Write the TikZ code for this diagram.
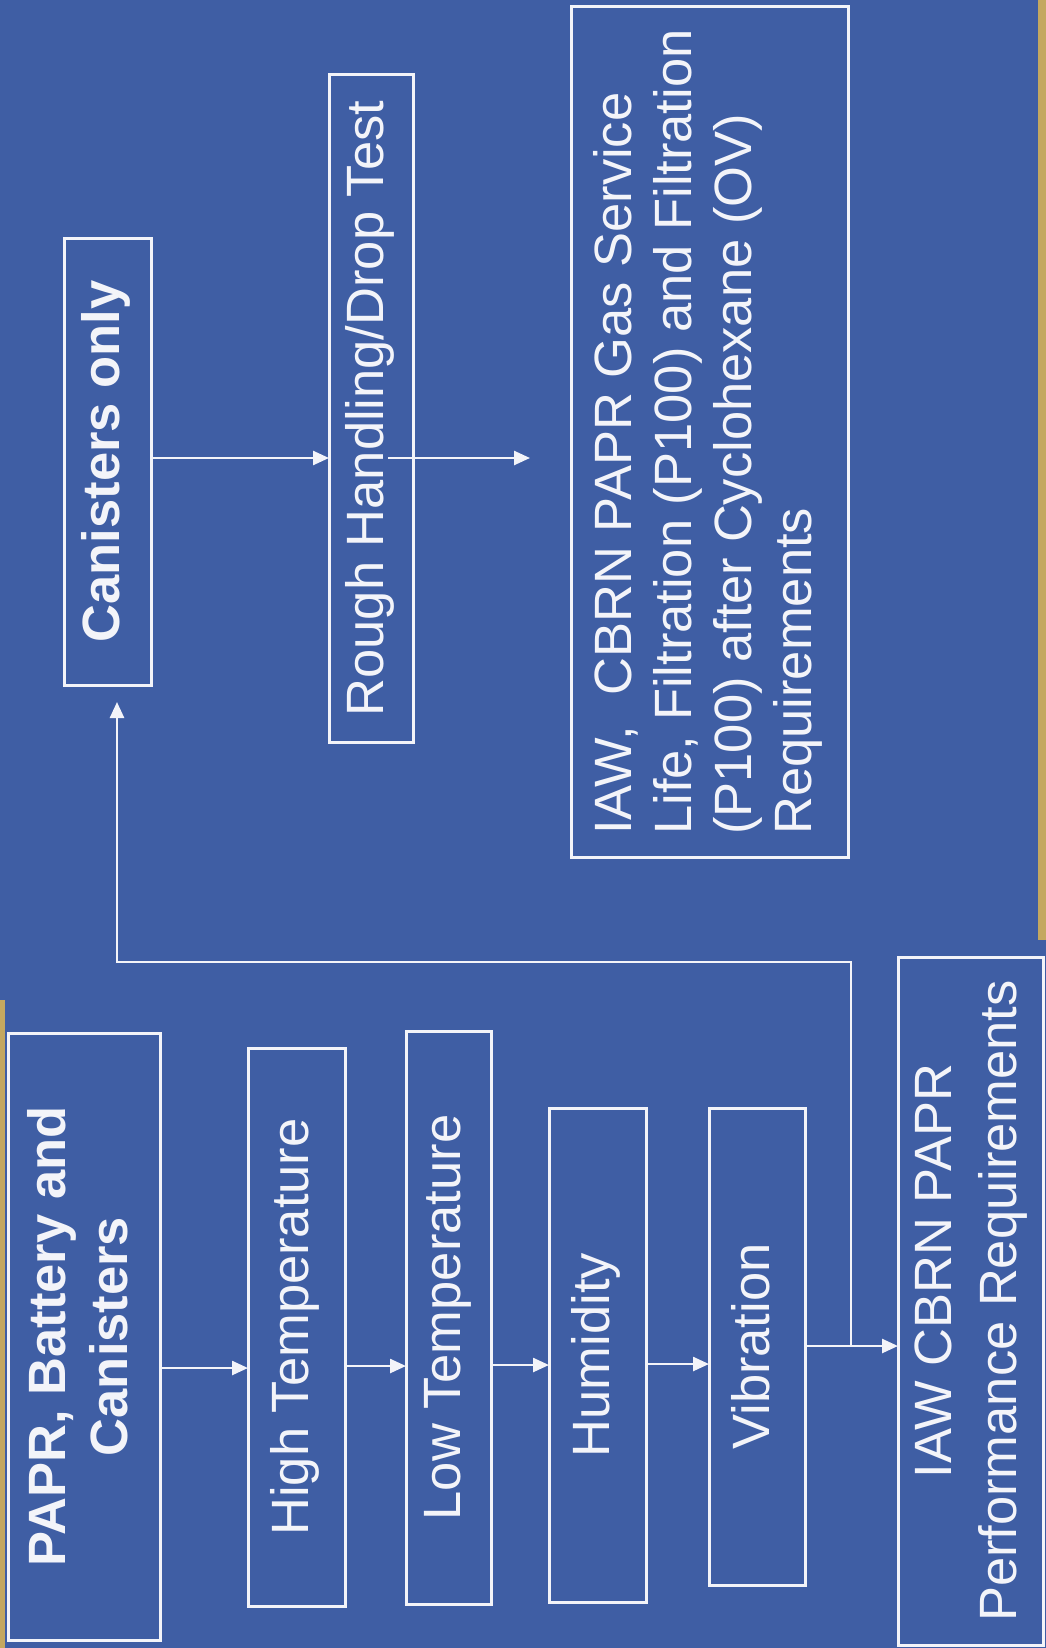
\documentclass[tikz,border=0pt]{standalone}
\usepackage{fontspec}
\setmainfont{Liberation Sans}
\usepackage{graphicx}
\usetikzlibrary{arrows.meta}
\definecolor{bgblue}{RGB}{63,94,164}
\definecolor{ink}{RGB}{243,244,249}
\definecolor{gold}{RGB}{196,168,96}
\newcommand{\vtext}[3][c]{\rotatebox{90}{\fontsize{52.5}{#2}\selectfont\begin{tabular}{@{}#1@{}}#3\end{tabular}}}
\tikzset{
  box/.style={draw=ink, line width=3pt, inner sep=0pt, outer sep=0pt, text=ink, rectangle},
  arr/.style={draw=ink, line width=2.5pt, -{Triangle[length=16pt,width=14pt]}},
}
\begin{document}
\begin{tikzpicture}[x=1pt,y=-1pt]
\fill[bgblue] (0,0) rectangle (1046,1648);
\useasboundingbox (0,0) rectangle (1046,1648);
\fill[gold] (1038,0) rectangle (1046,940);
\fill[gold] (0,1000) rectangle (5,1648);

% left column
\node[box, minimum width=152pt, minimum height=607pt, font=\bfseries] (papr) at (84,1336.5) {\vtext{62}{PAPR, Battery and\\Canisters}};
\node[box, minimum width=97pt, minimum height=558pt] (high) at (296.5,1327) {\vtext{62}{High Temperature\hspace{20pt}}};
\node[box, minimum width=85pt, minimum height=573pt] (low) at (448.5,1317.5) {\vtext{62}{Low Temperature}};
\node[box, minimum width=97pt, minimum height=494pt] (hum) at (597.5,1355) {\vtext{62}{Humidity\hspace{36pt}}};
\node[box, minimum width=96pt, minimum height=477pt] (vib) at (757,1346.5) {\vtext{62}{Vibration\hspace{20pt}}};
\node[box, minimum width=145pt, minimum height=688pt] (perf) at (970.5,1301) {\vtext{65}{\hspace*{60pt}IAW CBRN PAPR\\Performance Requirements}};

% right column
\node[box, minimum width=87pt, minimum height=447pt, font=\bfseries] (can) at (107.5,461.5) {\vtext{62}{Canisters only}};
\node[box, minimum width=84pt, minimum height=667pt] (rough) at (371,408.5) {\vtext{62}{Rough Handling/Drop Test}};
\node[box, minimum width=277pt, minimum height=850pt] (gas) at (709.5,432) {\vtext[l]{60}{IAW,\hspace{0.3em} CBRN PAPR Gas Service\\Life, Filtration (P100) and Filtration\\(P100) after Cyclohexane (OV)\\Requirements}};

% arrow levels
\coordinate (y1) at (0,1368);
\coordinate (y2) at (0,1366);
\coordinate (y3) at (0,1365);
\coordinate (y4) at (0,1364);
\coordinate (y5) at (0,1346);
\coordinate (y6) at (0,458);
\coordinate (jn) at (851,1346);
\coordinate (c1) at (851,962);
\coordinate (c2) at (117,962);
\coordinate (ctip) at (117,702);

\draw[arr] (papr.east |- y1) -- (high.west |- y1);
\draw[arr] (high.east |- y2) -- (low.west |- y2);
\draw[arr] (low.east |- y3) -- (hum.west |- y3);
\draw[arr] (hum.east |- y4) -- (vib.west |- y4);
\draw[arr] (vib.east |- y5) -- (perf.west |- y5);
\draw[arr] (jn) -- (c1) -- (c2) -- (ctip);
\draw[arr] (can.east |- y6) -- (rough.west |- y6);
\draw[arr] ([xshift=-25pt]rough.east |- y6) -- ([xshift=-41pt]gas.west |- y6);
\end{tikzpicture}
\end{document}
